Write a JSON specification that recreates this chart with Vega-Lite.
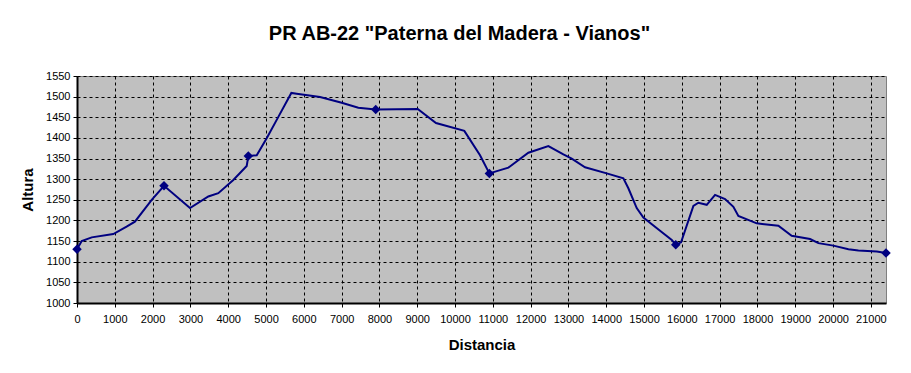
{
  "$schema": "https://vega.github.io/schema/vega-lite/v6.json",
  "width": 809,
  "height": 227,
  "autosize": "none",
  "padding": {"left": 77, "top": 76, "right": 25, "bottom": 70},
  "background": "white",
  "title": {
    "text": "PR AB-22 \"Paterna del Madera - Vianos\"",
    "font": "Liberation Sans",
    "fontSize": 20,
    "fontWeight": "bold",
    "color": "black",
    "offset": 26,
    "dx": -22
  },
  "config": {
    "view": {"fill": "#C0C0C0", "stroke": "#808080", "strokeWidth": 1},
    "axis": {
      "labelFont": "Liberation Sans",
      "labelFontSize": 11,
      "labelColor": "black",
      "titleFont": "Liberation Sans",
      "titleFontSize": 15,
      "titleFontWeight": "bold",
      "titleColor": "black",
      "domainColor": "black",
      "domainWidth": 2,
      "tickColor": "black",
      "tickSize": 4,
      "tickWidth": 1,
      "gridColor": "black",
      "gridDash": [3, 3],
      "gridWidth": 1,
      "gridOpacity": 1
    }
  },
  "data": {
    "values": [
      {"d": 0, "h": 1130, "m": 1},
      {"d": 124, "h": 1150, "m": 0},
      {"d": 389, "h": 1159, "m": 0},
      {"d": 960, "h": 1167, "m": 0},
      {"d": 1312, "h": 1185, "m": 0},
      {"d": 1532, "h": 1197, "m": 0},
      {"d": 1976, "h": 1250, "m": 0},
      {"d": 2302, "h": 1284, "m": 1},
      {"d": 2989, "h": 1230, "m": 0},
      {"d": 3474, "h": 1258, "m": 0},
      {"d": 3738, "h": 1266, "m": 0},
      {"d": 4135, "h": 1298, "m": 0},
      {"d": 4489, "h": 1332, "m": 0},
      {"d": 4532, "h": 1356, "m": 1},
      {"d": 4754, "h": 1358, "m": 0},
      {"d": 5018, "h": 1399, "m": 0},
      {"d": 5326, "h": 1451, "m": 0},
      {"d": 5670, "h": 1509, "m": 0},
      {"d": 5811, "h": 1507, "m": 0},
      {"d": 6429, "h": 1499, "m": 0},
      {"d": 7002, "h": 1485, "m": 0},
      {"d": 7442, "h": 1473, "m": 0},
      {"d": 7902, "h": 1469, "m": 1},
      {"d": 9013, "h": 1470, "m": 0},
      {"d": 9497, "h": 1436, "m": 0},
      {"d": 10246, "h": 1417, "m": 0},
      {"d": 10661, "h": 1358, "m": 0},
      {"d": 10908, "h": 1314, "m": 1},
      {"d": 11411, "h": 1328, "m": 0},
      {"d": 11940, "h": 1364, "m": 0},
      {"d": 12469, "h": 1380, "m": 0},
      {"d": 12866, "h": 1360, "m": 0},
      {"d": 13087, "h": 1350, "m": 0},
      {"d": 13439, "h": 1329, "m": 0},
      {"d": 14013, "h": 1314, "m": 0},
      {"d": 14453, "h": 1302, "m": 0},
      {"d": 14585, "h": 1278, "m": 0},
      {"d": 14806, "h": 1230, "m": 0},
      {"d": 14982, "h": 1207, "m": 0},
      {"d": 15423, "h": 1175, "m": 0},
      {"d": 15733, "h": 1153, "m": 0},
      {"d": 15838, "h": 1141, "m": 1},
      {"d": 15979, "h": 1147, "m": 0},
      {"d": 16305, "h": 1235, "m": 0},
      {"d": 16437, "h": 1243, "m": 0},
      {"d": 16658, "h": 1238, "m": 0},
      {"d": 16878, "h": 1262, "m": 0},
      {"d": 17143, "h": 1252, "m": 0},
      {"d": 17363, "h": 1233, "m": 0},
      {"d": 17495, "h": 1211, "m": 0},
      {"d": 17981, "h": 1193, "m": 0},
      {"d": 18553, "h": 1187, "m": 0},
      {"d": 18905, "h": 1163, "m": 0},
      {"d": 19392, "h": 1155, "m": 0},
      {"d": 19612, "h": 1145, "m": 0},
      {"d": 20009, "h": 1139, "m": 0},
      {"d": 20406, "h": 1130, "m": 0},
      {"d": 20670, "h": 1127, "m": 0},
      {"d": 21156, "h": 1125, "m": 0},
      {"d": 21400, "h": 1121, "m": 1}
    ]
  },
  "encoding": {
    "x": {
      "field": "d",
      "type": "quantitative",
      "title": "Distancia",
      "scale": {"domain": [0, 21400], "nice": false, "zero": false},
      "axis": {"values": [0,1000,2000,3000,4000,5000,6000,7000,8000,9000,10000,11000,12000,13000,14000,15000,16000,17000,18000,19000,20000,21000], "format": "d", "labelPadding": 6, "titlePadding": 13, "labelFlush": false}
    },
    "y": {
      "field": "h",
      "type": "quantitative",
      "title": "Altura",
      "scale": {"domain": [1000, 1550], "nice": false, "zero": false},
      "axis": {"values": [1000,1050,1100,1150,1200,1250,1300,1350,1400,1450,1500,1550], "format": "d", "labelPadding": 3, "titlePadding": 10, "labelFlush": false}
    }
  },
  "layer": [
    {"mark": {"type": "line", "color": "#000080", "strokeWidth": 2}},
    {
      "transform": [{"filter": "datum.m == 1"}],
      "mark": {"type": "point", "shape": "diamond", "filled": true, "color": "#000080", "size": 90, "opacity": 1}
    }
  ]
}
